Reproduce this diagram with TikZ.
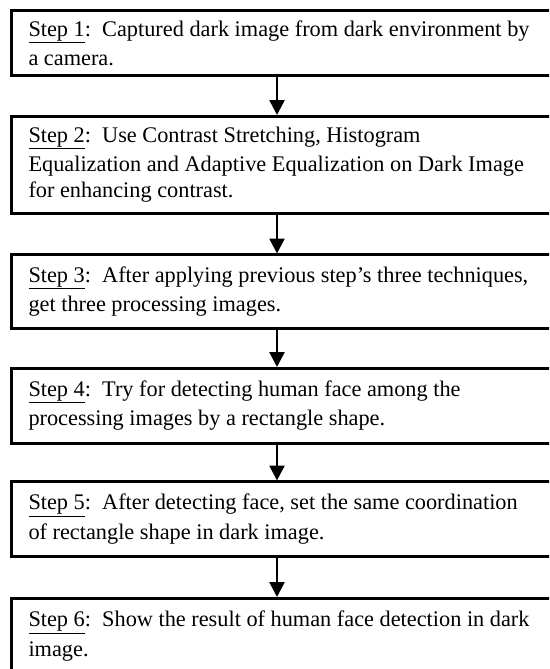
\documentclass[tikz,border=0pt]{standalone}
\usepackage{fontspec}
\setmainfont{Liberation Serif}
\usetikzlibrary{arrows.meta}
\begin{document}
\begin{tikzpicture}[x=1pt,y=1pt,
  stepbox/.style={draw, line width=3pt, rectangle, anchor=north west, outer sep=0pt,
    minimum width=564pt, text width=530pt, inner xsep=17pt, inner ysep=4pt, align=flush left,
    font=\fontsize{22.3}{26.3}\selectfont,
    execute at begin node={\vspace*{3pt}}},
  flow/.style={line width=2.6pt, -{Triangle[width=15pt,length=15pt]}, shorten >=1pt}]
\useasboundingbox (0,0) rectangle (549,-669);
\clip (0,0) rectangle (549,-669);
\coordinate (ax) at (277,0);
\node[stepbox, minimum height=65pt] (s1) at (11.5,-10.5)
  {\underline{Step 1}:\ \ Captured dark image from dark environment by\\a camera.};
\node[stepbox, minimum height=97pt] (s2) at (11.5,-116)
  {\underline{Step 2}:\ \ Use Contrast Stretching, Histogram\\Equalization and Adaptive Equalization on Dark Image\\for enhancing contrast.};
\node[stepbox, minimum height=74pt] (s3) at (11.5,-254.5)
  {\underline{Step 3}:\ \ After applying previous step’s three techniques,\\get three processing images.};
\node[stepbox, minimum height=75.5pt] (s4) at (11.5,-368)
  {\underline{Step 4}:\ \ Try for detecting human face among the\\processing images by a rectangle shape.};
\node[stepbox, minimum height=75pt] (s5) at (11.5,-481.5)
  {\underline{Step 5}:\ \ After detecting face, set the same coordination\\of rectangle shape in dark image.};
\node[stepbox, minimum height=76pt] (s6) at (11.5,-598)
  {\underline{Step 6}:\ \ Show the result of human face detection in dark\\image.};
\draw[flow] (s1.south -| ax) -- (s2.north -| ax);
\draw[flow] (s2.south -| ax) -- (s3.north -| ax);
\draw[flow] (s3.south -| ax) -- (s4.north -| ax);
\draw[flow] (s4.south -| ax) -- (s5.north -| ax);
\draw[flow] (s5.south -| ax) -- (s6.north -| ax);
\end{tikzpicture}
\end{document}
